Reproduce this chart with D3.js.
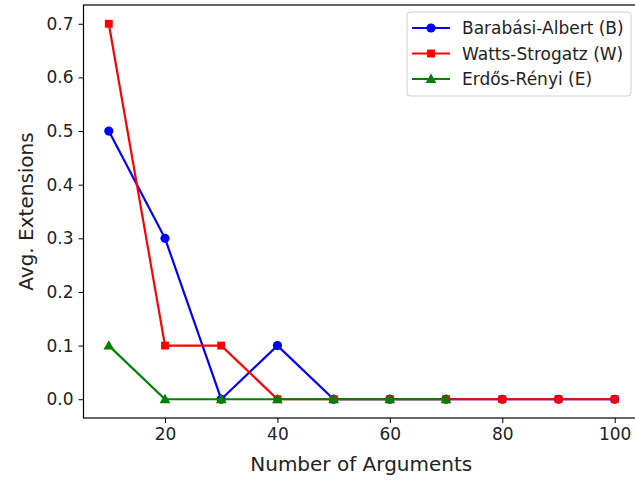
<!DOCTYPE html>
<html>
<head>
<meta charset="utf-8">
<script src="https://cdn.jsdelivr.net/npm/d3@7"></script>
<style>
  html, body { margin: 0; padding: 0; background: #fff; }
  svg { display: block; font-family: "DejaVu Sans", sans-serif; }
</style>
</head>
<body>
<svg id="chart" width="635" height="482"></svg>
<script>
// Average number of extensions per graph model, by argument count
const argCounts = [10, 20, 30, 40, 50, 60, 70, 80, 90, 100];
const barabasi = [0.5, 0.3, 0.0, 0.1, 0.0, 0.0, 0.0, 0.0, 0.0, 0.0];
const watts = [0.7, 0.1, 0.1, 0.0, 0.0, 0.0, 0.0, 0.0, 0.0, 0.0];
const erdosX = [10, 20, 30, 40, 50, 60, 70];
const erdos = [0.1, 0.0, 0.0, 0.0, 0.0, 0.0, 0.0];
const xTicks = [20, 40, 60, 80, 100];
const yTicks = [0.0, 0.1, 0.2, 0.3, 0.4, 0.5, 0.6, 0.7];

const series = [
  { name: "Barabási-Albert (B)", xs: argCounts, ys: barabasi, color: "#0000ff", marker: "circle" },
  { name: "Watts-Strogatz (W)", xs: argCounts, ys: watts, color: "#ff0000", marker: "square" },
  { name: "Erdős-Rényi (E)", xs: erdosX, ys: erdos, color: "#008000", marker: "triangle" }
];

const svg = d3.select("#chart");
const plot = { left: 83.5, right: 640, top: 5, bottom: 418 };

const x = d3.scaleLinear().domain([5.5, 104.5]).range([plot.left, plot.right]);
const y = d3.scaleLinear().domain([-0.035, 0.735]).range([plot.bottom, plot.top]);

const tickFont = 17;
const labelFont = 20;

// axes
const xAxis = svg.append("g")
  .attr("transform", `translate(0,${plot.bottom})`)
  .call(d3.axisBottom(x).tickValues(xTicks).tickFormat(d3.format("d")).tickSize(5).tickPadding(5));
const yAxis = svg.append("g")
  .attr("transform", `translate(${plot.left},0)`)
  .call(d3.axisLeft(y).tickValues(yTicks).tickFormat(d3.format(".1f")).tickSize(5).tickPadding(5));

[xAxis, yAxis].forEach(g => {
  g.select(".domain").remove();
  g.selectAll(".tick line").attr("stroke", "#000").attr("stroke-width", 1);
  g.selectAll(".tick text").attr("fill", "#222").style("font-size", tickFont + "px").style("font-family", "DejaVu Sans");
});

// plot frame (right edge falls outside the canvas)
svg.append("rect")
  .attr("x", plot.left).attr("y", plot.top)
  .attr("width", plot.right - plot.left).attr("height", plot.bottom - plot.top)
  .attr("fill", "none").attr("stroke", "#000").attr("stroke-width", 1.2);

const symbolFor = m => m === "circle" ? d3.symbolCircle : m === "square" ? d3.symbolSquare : d3.symbolTriangle;
const sizeFor = m => m === "circle" ? 66 : m === "square" ? 62 : 50;

const line = d3.line().x(d => x(d[0])).y(d => y(d[1]));

series.forEach(s => {
  const pts = s.xs.map((v, i) => [v, s.ys[i]]);
  const g = svg.append("g");
  g.append("path").datum(pts)
    .attr("d", line).attr("fill", "none")
    .attr("stroke", s.color).attr("stroke-width", 2.2)
    .attr("stroke-linejoin", "round");
  g.selectAll("path.m").data(pts).enter().append("path")
    .attr("class", "m")
    .attr("transform", d => `translate(${x(d[0])},${y(d[1]) + (s.marker === "triangle" ? 0.8 : 0)})`)
    .attr("d", d3.symbol().type(symbolFor(s.marker)).size(sizeFor(s.marker)))
    .attr("fill", s.color);
});

// axis titles
svg.append("text")
  .attr("x", (plot.left + 640) / 2 - 0.5).attr("y", 470.5)
  .attr("text-anchor", "middle")
  .style("font-size", labelFont + "px").attr("fill", "#222")
  .text("Number of Arguments");
svg.append("text")
  .attr("transform", `translate(33,${(plot.top + plot.bottom) / 2}) rotate(-90)`)
  .attr("text-anchor", "middle")
  .style("font-size", labelFont + "px").attr("fill", "#222")
  .text("Avg. Extensions");

// legend
const legend = svg.append("g").attr("transform", "translate(407,12)");
legend.append("rect")
  .attr("x", 0).attr("y", 0).attr("width", 224).attr("height", 84)
  .attr("rx", 3).attr("fill", "#fff").attr("fill-opacity", 0.8)
  .attr("stroke", "#d0d0d0").attr("stroke-width", 1);
series.forEach((s, i) => {
  const cy = 16 + i * 25.5;
  legend.append("line")
    .attr("x1", 5).attr("x2", 43).attr("y1", cy).attr("y2", cy)
    .attr("stroke", s.color).attr("stroke-width", 2.2);
  legend.append("path")
    .attr("transform", `translate(24,${cy + (s.marker === "triangle" ? 0.8 : 0)})`)
    .attr("d", d3.symbol().type(symbolFor(s.marker)).size(sizeFor(s.marker)))
    .attr("fill", s.color);
  legend.append("text")
    .attr("x", 55).attr("y", cy + 6)
    .style("font-size", tickFont + "px").attr("fill", "#222")
    .text(s.name);
});
</script>
</body>
</html>
